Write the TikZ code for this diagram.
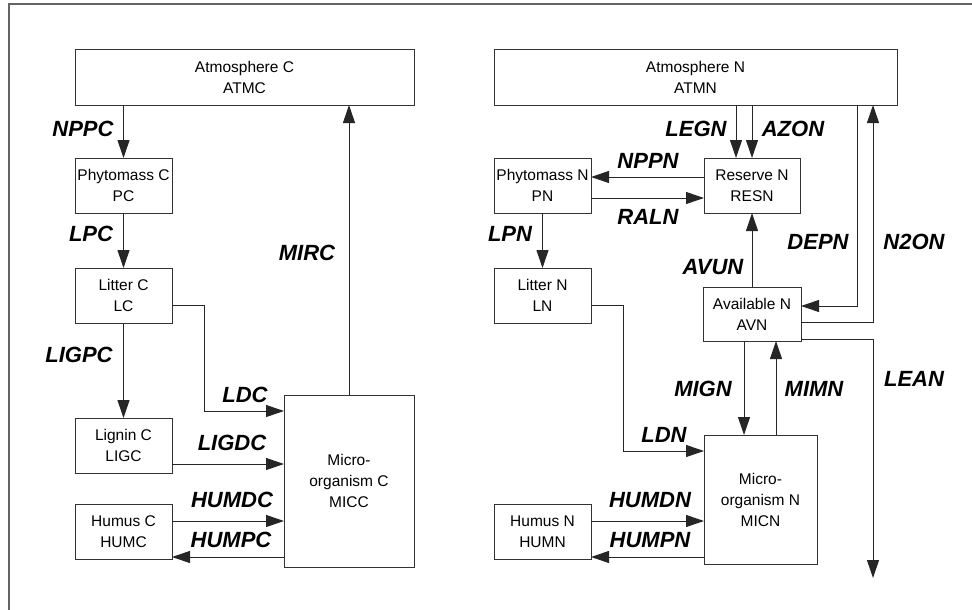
\documentclass[tikz,border=0pt]{standalone}
\usepackage{fontspec}
\setmainfont{Liberation Sans}
\usetikzlibrary{arrows.meta}
\begin{document}
\begin{tikzpicture}[x=1pt,y=-1pt,
  box/.style={draw=black!80, line width=1pt, minimum width=97pt, minimum height=55pt,
    inner sep=0pt, outer sep=0pt, align=center, font=\fontsize{15.5}{21}\selectfont},
  flow/.style={draw=black!85, line width=1pt, -{Triangle[length=18pt,width=12pt]}},
  lab/.style={font=\fontsize{22}{24}\selectfont\bfseries\itshape, inner sep=0pt}]
\useasboundingbox (0,0) rectangle (972,610);
\draw[draw={rgb,255:red,100;green,100;blue,100}, line width=1.3pt] (9,610) -- (9,4) -- (972,4);

% ---------- Carbon ----------
\node[box, minimum width=339pt] (ATMC) at (244.5,77.5) {Atmosphere C\\ATMC};
\node[box] (PC)   at (123.5,185.5) {Phytomass C\\PC};
\node[box] (LC)   at (123.5,295.5) {Litter C\\LC};
\node[box] (LIGC) at (123.5,445.5) {Lignin C\\LIGC};
\node[box] (HUMC) at (123.5,532)   {Humus C\\HUMC};
\node[box, minimum width=130pt, minimum height=172pt] (MICC) at (349,481) {Micro-\\organism C\\MICC};

\draw[flow] (ATMC.south -| PC) -- (PC.north);
\draw[flow] (PC.south) -- (LC.north);
\draw[flow] (LC.south) -- (LIGC.north);
\draw[flow] (LC.east |- 0,305) -| (204,411) -- (MICC.west |- 0,411);
\draw[flow] (LIGC.east |- 0,464) -- (MICC.west |- 0,464);
\draw[flow] (HUMC.east |- 0,521) -- (MICC.west |- 0,521);
\draw[flow] (MICC.west |- 0,557) -- (HUMC.east |- 0,557);
\draw[flow] (MICC.north) -- (ATMC.south -| MICC);

\node[lab] (lNPPC)  at (83,129)  {NPPC};
\node[lab] (lLPC)   at (91,234)  {LPC};
\node[lab] (lMIRC)  at (307,253) {MIRC};
\node[lab] (lLIGPC) at (79,355)  {LIGPC};
\node[lab] (lLDC)   at (245,395) {LDC};
\node[lab] (lLIGDC) at (232,443) {LIGDC};
\node[lab] (lHUMDC) at (232,500) {HUMDC};
\node[lab] (lHUMPC) at (231,540) {HUMPC};

% ---------- Nitrogen ----------
\node[box, minimum width=403pt] (ATMN) at (695.5,77.5) {Atmosphere N\\ATMN};
\node[box] (PN)   at (542.5,185.5) {Phytomass N\\PN};
\node[box, minimum width=96pt] (RESN) at (752,185.5) {Reserve N\\RESN};
\node[box] (LN)   at (542.5,295.5) {Litter N\\LN};
\node[box, minimum width=98pt, minimum height=54pt] (AVN) at (752,314) {Available N\\AVN};
\node[box] (HUMN) at (542.5,532) {Humus N\\HUMN};
\node[box, minimum width=113pt, minimum height=129pt] (MICN) at (760.5,499.5) {Micro-\\organism N\\MICN};
\coordinate (leak) at (873,578);

\draw[flow] (ATMN.south -| 736,0) -- (RESN.north -| 736,0);
\draw[flow] (ATMN.south -| RESN) -- (RESN.north);
\draw[flow] (RESN.west |- 0,177) -- (PN.east |- 0,177);
\draw[flow] (PN.east |- 0,198) -- (RESN.west |- 0,198);
\draw[flow] (PN.south) -- (LN.north);
\draw[flow] (AVN.north) -- (RESN.south);
\draw[flow] (ATMN.south -| 857,0) |- (AVN.east |- 0,306);
\draw[flow] (AVN.east |- 0,322) -| (ATMN.south -| 873,0);
\draw[flow] (AVN.east |- 0,339) -| (leak);
\draw[flow] (AVN.south -| 744,0) -- (MICN.north -| 744,0);
\draw[flow] (MICN.north -| 776,0) -- (AVN.south -| 776,0);
\draw[flow] (LN.east |- 0,305) -| (623,451) -- (MICN.west |- 0,451);
\draw[flow] (HUMN.east |- 0,521) -- (MICN.west |- 0,521);
\draw[flow] (MICN.west |- 0,557) -- (HUMN.east |- 0,557);

\node[lab] (lLEGN)  at (696,129) {LEGN};
\node[lab] (lAZON)  at (793,129) {AZON};
\node[lab] (lNPPN)  at (648,161) {NPPN};
\node[lab] (lRALN)  at (648,217) {RALN};
\node[lab] (lLPN)   at (510,234) {LPN};
\node[lab] (lDEPN)  at (818,242) {DEPN};
\node[lab] (lN2ON)  at (914,242) {N2ON};
\node[lab] (lAVUN)  at (713,267) {AVUN};
\node[lab] (lMIGN)  at (703,389) {MIGN};
\node[lab] (lMIMN)  at (814,389) {MIMN};
\node[lab] (lLDN)   at (664,435) {LDN};
\node[lab] (lHUMDN) at (650,500) {HUMDN};
\node[lab] (lHUMPN) at (650,540) {HUMPN};
\node[lab] (lLEAN)  at (914,379) {LEAN};
\end{tikzpicture}
\end{document}
